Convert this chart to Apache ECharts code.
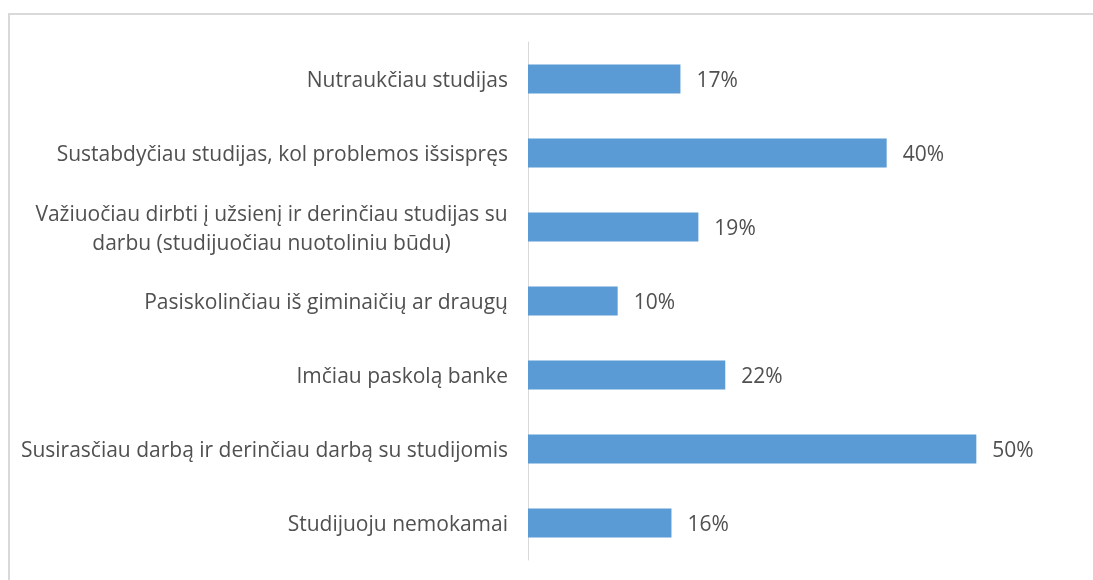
<!DOCTYPE html>
<html>
<head>
<meta charset="utf-8">
<script src="https://cdn.jsdelivr.net/npm/echarts@6/dist/echarts.min.js"></script>
<style>
  body { margin: 0; background: #fff; }
  #frame { position: absolute; left: 8px; top: 13px; width: 1100px; height: 600px;
           border-left: 2px solid #d9d9d9; border-top: 2px solid #d9d9d9; }
  #chart { position: absolute; left: 0; top: 0; width: 1093px; height: 580px; }
</style>
</head>
<body>
<div id="frame"></div>
<div id="chart"></div>
<script>
// atsakymų kategorijos (iš viršaus į apačią)
var categories = [
    'Nutraukčiau studijas',
    'Sustabdyčiau studijas, kol problemos išsispręs',
    'Važiuočiau dirbti į užsienį ir derinčiau studijas su\ndarbu (studijuočiau nuotoliniu būdu)',
    'Pasiskolinčiau iš giminaičių ar draugų',
    'Imčiau paskolą banke',
    'Susirasčiau darbą ir derinčiau darbą su studijomis',
    'Studijuoju nemokamai'
];
var values = [17, 40, 19, 10, 22, 50, 16];

var FONT = '"Open Sans", "Noto Sans", sans-serif';
var FS = 21;
var TXT = '#505050';

// daugiaeilutę etiketę centruojam pagal ilgiausią eilutę
var ctx = document.createElement('canvas').getContext('2d');
ctx.font = FS + 'px "Open Sans"';
let labelFormatter = (val)=>{
    if (val.indexOf('\n') < 0) return val;
    const lines = val.split('\n');
    return lines.map(function(l){ return '{c|' + l + '}'; }).join('\n');
};
let longest = 0;
categories.forEach(function(c){
    if (c.indexOf('\n') >= 0) {
        c.split('\n').forEach(function(l){
            longest = Math.max(longest, ctx.measureText(l).width);
        });
    }
});

var myChart = echarts.init(document.getElementById('chart'));
var option = {
    animation: false,
    grid: { left: 528, right: 27, top: 42, bottom: 20 },
    xAxis: {
        type: 'value', min: 0, max: 60, show: false
    },
    yAxis: {
        type: 'category',
        data: categories,
        inverse: true,
        axisLine: { lineStyle: { color: '#d9d9d9', width: 1 } },
        axisTick: { show: false },
        axisLabel: {
            margin: 20,
            color: TXT,
            fontFamily: FONT,
            fontSize: FS,
            lineHeight: 29,
            padding: [5, 0, 0, 0],
            formatter: labelFormatter,
            rich: {
                c: { width: Math.ceil(longest), align: 'center', color: TXT,
                     fontFamily: FONT, fontSize: FS, lineHeight: 29 }
            }
        }
    },
    series: [{
        type: 'bar',
        data: values,
        barWidth: 29,
        itemStyle: { color: '#5b9bd5' },
        label: {
            show: true,
            position: 'right',
            distance: 16,
            offset: [0, 2],
            color: TXT,
            fontFamily: FONT,
            fontSize: FS,
            formatter: '{c}%'
        }
    }]
};
myChart.setOption(option);
</script>
</body>
</html>
